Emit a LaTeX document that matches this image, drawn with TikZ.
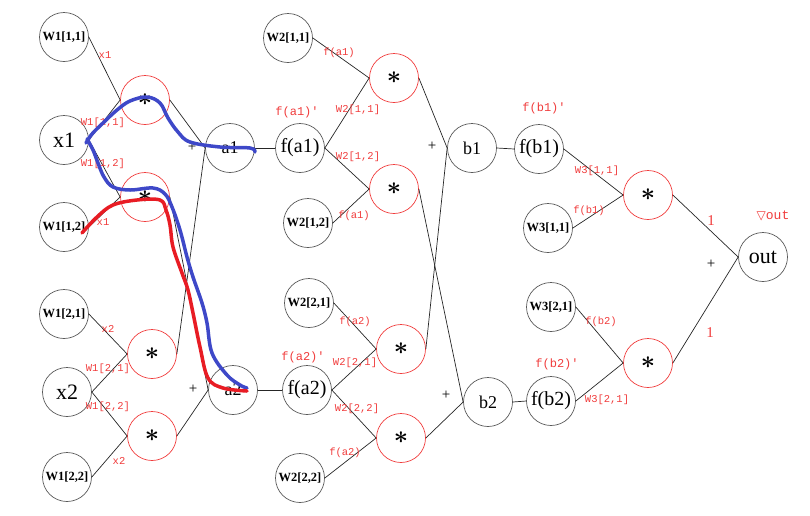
\documentclass[tikz,border=0pt]{standalone}
\usepackage{fontspec}
\setmainfont{Liberation Serif}
\newfontfamily\lmono{Liberation Mono}
\newfontfamily\dvs{DejaVu Sans}
\definecolor{penblue}{RGB}{62,72,200}
\definecolor{penred}{RGB}{232,28,36}
\definecolor{lred}{RGB}{240,60,60}
\begin{document}
\begin{tikzpicture}[x=1pt,y=-1pt,
  nd/.style={circle,draw=black!65,line width=0.7pt,minimum size=49pt,inner sep=0pt},
  mul/.style={nd,draw=lred,font=\fontsize{26}{26}\selectfont\boldmath},
  wt/.style={nd,font=\fontsize{12.5}{13}\selectfont\bfseries},
  big/.style={nd,font=\fontsize{22}{22}\selectfont},
  mid/.style={nd,font=\fontsize{18}{18}\selectfont},
  fn/.style={nd,font=\fontsize{20}{20}\selectfont},
  lab/.style={text=lred,font=\lmono\fontsize{10.5}{11}\selectfont,inner sep=0pt},
  plab/.style={text=lred,font=\lmono\fontsize{12}{12}\selectfont,inner sep=0pt},
  one/.style={text=lred,font=\fontsize{15}{15}\selectfont,inner sep=0pt},
  pl/.style={font=\fontsize{15}{15}\selectfont,inner sep=0pt},
  ln/.style={draw=black!85,line width=0.7pt},
  pen/.style={line width=3.5pt,line cap=round,line join=round}]
\useasboundingbox (0,0) rectangle (810,515);
% layer 1 inputs
\node[wt]  (W11) at (64,37)  {W1[1,1]};
\node[big] (x1)  at (64,140) {x1};
\node[wt]  (W12) at (64,227) {W1[1,2]};
\node[wt]  (W21) at (64,314) {W1[2,1]};
\node[big] (x2)  at (67,392) {x2};
\node[wt]  (W22) at (67,477) {W1[2,2]};
\node[mul] (m11) at (145,100) {$\ast$};
\node[mul] (m12) at (145,197) {$\ast$};
\node[mul] (m21) at (152,354) {$\ast$};
\node[mul] (m22) at (152,436) {$\ast$};
\node[mid] (a1) at (230,148) {a1};
\node[mid] (a2) at (233,390) {a2};
% layer 2
\node[fn] (fa1) at (300,148) {f(a1)};
\node[fn] (fa2) at (307,390) {f(a2)};
\node[wt] (V11) at (288,38)  {W2[1,1]};
\node[wt] (V12) at (308,223) {W2[1,2]};
\node[wt] (V21) at (309,303) {W2[2,1]};
\node[wt] (V22) at (300,478) {W2[2,2]};
\node[mul] (n11) at (394,78)  {$\ast$};
\node[mul] (n12) at (394,189) {$\ast$};
\node[mul] (n21) at (401,349) {$\ast$};
\node[mul] (n22) at (401,438) {$\ast$};
\node[mid] (b1) at (472,148) {b1};
\node[mid] (b2) at (488,402) {b2};
% layer 3
\node[fn] (fb1) at (539,149) {f(b1)};
\node[fn] (fb2) at (551,401) {f(b2)};
\node[wt] (U11) at (548,228) {W3[1,1]};
\node[wt] (U21) at (551,307) {W3[2,1]};
\node[mul] (p1) at (648,195) {$\ast$};
\node[mul] (p2) at (648,363) {$\ast$};
\node[big] (out) at (763,257) {out};
% connectors
\draw[ln] (W11.east) -- (m11.west);
\draw[ln] (x1.east) -- (m11.west);
\draw[ln] (x1.east) -- (m12.west);
\draw[ln] (W12.east) -- (m12.west);
\draw[ln] (W21.east) -- (m21.west);
\draw[ln] (x2.east) -- (m21.west);
\draw[ln] (x2.east) -- (m22.west);
\draw[ln] (W22.east) -- (m22.west);
\draw[ln] (m11.east) -- (a1.west);
\draw[ln] (m21.east) -- (a1.west);
\draw[ln] (m12.east) -- (a2.west);
\draw[ln] (m22.east) -- (a2.west);
\draw[ln] (a1.east) -- (fa1.west);
\draw[ln] (a2.east) -- (fa2.west);
\draw[ln] (V11.east) -- (n11.west);
\draw[ln] (fa1.east) -- (n11.west);
\draw[ln] (fa1.east) -- (n12.west);
\draw[ln] (V12.east) -- (n12.west);
\draw[ln] (V21.east) -- (n21.west);
\draw[ln] (fa2.east) -- (n21.west);
\draw[ln] (fa2.east) -- (n22.west);
\draw[ln] (V22.east) -- (n22.west);
\draw[ln] (n11.east) -- (b1.west);
\draw[ln] (n21.east) -- (b1.west);
\draw[ln] (n12.east) -- (b2.west);
\draw[ln] (n22.east) -- (b2.west);
\draw[ln] (b1.east) -- (fb1.west);
\draw[ln] (b2.east) -- (fb2.west);
\draw[ln] (fb1.east) -- (p1.west);
\draw[ln] (U11.east) -- (p1.west);
\draw[ln] (U21.east) -- (p2.west);
\draw[ln] (fb2.east) -- (p2.west);
\draw[ln] (p1.east) -- (out.west);
\draw[ln] (p2.east) -- (out.west);
% red labels
\node[lab] (l1) at (105,55) {x1};
\node[lab] (l2) at (103,123) {W1[1,1]};
\node[lab] (l3) at (103,164) {W1[1,2]};
\node[lab] (l4) at (103,222) {x1};
\node[lab] (l5) at (108,329) {x2};
\node[lab] (l6) at (108,369) {W1[2,1]};
\node[lab] (l7) at (108,407) {W1[2,2]};
\node[lab] (l8) at (119,461) {x2};
\node[lab] (l9) at (339,53) {f(a1)};
\node[plab] (l10) at (297,112) {f(a1)'};
\node[lab] (l11) at (358,110) {W2[1,1]};
\node[lab] (l12) at (358,157) {W2[1,2]};
\node[lab] (l13) at (354,216) {f(a1)};
\node[lab] (l14) at (355,322) {f(a2)};
\node[plab] (l15) at (303,357) {f(a2)'};
\node[lab] (l16) at (355,363) {W2[2,1]};
\node[lab] (l17) at (357,409) {W2[2,2]};
\node[lab] (l18) at (345,453) {f(a2)};
\node[plab] (l19) at (544,108) {f(b1)'};
\node[lab] (l20) at (597,171) {W3[1,1]};
\node[lab] (l21) at (589,211) {f(b1)};
\node[lab] (l22) at (601,322) {f(b2)};
\node[plab] (l23) at (557,364) {f(b2)'};
\node[lab] (l24) at (607,400) {W3[2,1]};
\node[one] (l25) at (711,221) {1};
\node[one] (l26) at (710,333) {1};
\node[text=lred,inner sep=0pt] (l27) at (773,216) {{\dvs\fontsize{12}{12}\selectfont ▽}{\lmono\fontsize{13}{13}\selectfont out}};
% plus signs
\node[pl] (s1) at (192,147) {+};
\node[pl] (s2) at (193,389) {+};
\node[pl] (s3) at (432,146) {+};
\node[pl] (s4) at (446,395) {+};
\node[pl] (s5) at (711,264) {+};
% hand-drawn pen strokes
\draw[pen,penblue] plot[smooth,tension=0.6] coordinates {(255,152) (250,148) (220,147) (190,142) (178,132) (168,118) (160,103) (147,97) (130,101) (117,110) (103,123) (92,134) (86,143)};
\draw[pen,penblue] plot[smooth,tension=0.6] coordinates {(87,139) (93,150) (98,163) (104,177) (113,187) (130,190) (153,188) (165,194) (172,207) (180,230) (187,257) (193,277) (202,303) (207,323) (212,353) (227,375) (240,385) (247,388)};
\draw[pen,penred] plot[smooth,tension=0.6] coordinates {(82,233) (97,217) (113,205) (137,200) (160,200) (166,210) (170,225) (173,247) (182,273) (188,290) (193,313) (200,347) (208,378) (223,388) (247,391)};
\end{tikzpicture}
\end{document}
